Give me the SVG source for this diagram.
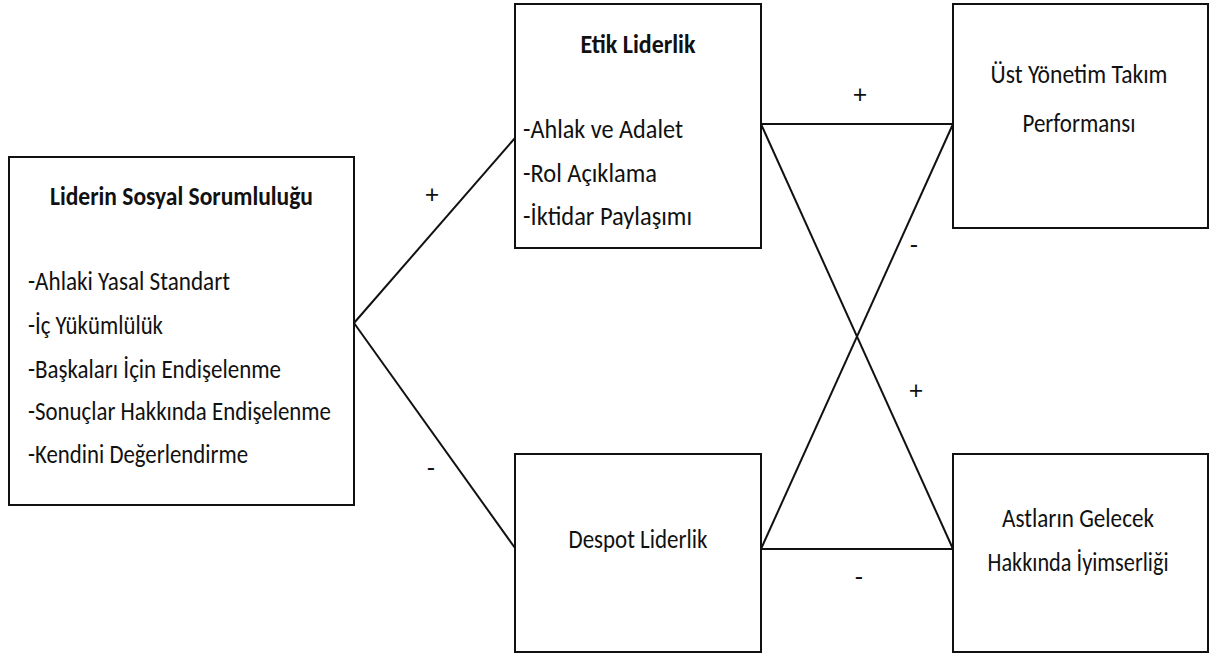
<svg xmlns="http://www.w3.org/2000/svg" width="1210" height="654" viewBox="0 0 1210 654">
  <style>
    .box { fill: #ffffff; stroke: #111111; stroke-width: 2; }
    .txt { font-family: Carlito, Calibri, Lato, "Liberation Sans", sans-serif; font-size: 27px; fill: #111111; }
    .ttl { font-weight: bold; }
    .mid { text-anchor: middle; }
    .conn line { stroke: #111111; stroke-width: 2; }
    .sign { font-family: Lato, "Liberation Sans", sans-serif; font-size: 25px; fill: #111111; text-anchor: middle; }
  </style>
  <rect width="1210" height="654" fill="#ffffff"/>

  <!-- connectors -->
  <g id="connectors" class="conn">
    <line x1="354" y1="323" x2="515" y2="138"/>
    <line x1="354" y1="323" x2="515" y2="548"/>
    <line x1="761" y1="124" x2="953" y2="124"/>
    <line x1="761" y1="549" x2="953" y2="549"/>
    <line x1="761" y1="124" x2="953" y2="549"/>
    <line x1="761" y1="549" x2="953" y2="124"/>
    <text class="sign" x="432" y="203">+</text>
    <text class="sign" x="431" y="477">-</text>
    <text class="sign" x="860" y="103">+</text>
    <text class="sign" x="914" y="254">-</text>
    <text class="sign" x="916" y="399">+</text>
    <text class="sign" x="859" y="586">-</text>
  </g>

  <!-- leader social responsibility -->
  <g id="node-sosyal-sorumluluk">
    <rect class="box" x="9" y="157" width="345" height="348"/>
    <text class="txt ttl mid" x="181.5" y="205" textLength="263" lengthAdjust="spacingAndGlyphs">Liderin Sosyal Sorumluluğu</text>
    <text class="txt" x="28" y="290" textLength="202" lengthAdjust="spacingAndGlyphs">-Ahlaki Yasal Standart</text>
    <text class="txt" x="28" y="334" textLength="135" lengthAdjust="spacingAndGlyphs">-İç Yükümlülük</text>
    <text class="txt" x="28" y="378" textLength="253" lengthAdjust="spacingAndGlyphs">-Başkaları İçin Endişelenme</text>
    <text class="txt" x="28" y="420" textLength="303" lengthAdjust="spacingAndGlyphs">-Sonuçlar Hakkında Endişelenme</text>
    <text class="txt" x="28" y="463" textLength="220" lengthAdjust="spacingAndGlyphs">-Kendini Değerlendirme</text>
  </g>

  <!-- ethical leadership -->
  <g id="node-etik-liderlik">
    <rect class="box" x="515" y="4" width="246" height="244"/>
    <text class="txt ttl mid" x="638" y="53" textLength="115" lengthAdjust="spacingAndGlyphs">Etik Liderlik</text>
    <text class="txt" x="523" y="138" textLength="160" lengthAdjust="spacingAndGlyphs">-Ahlak ve Adalet</text>
    <text class="txt" x="523" y="182" textLength="134" lengthAdjust="spacingAndGlyphs">-Rol Açıklama</text>
    <text class="txt" x="523" y="225" textLength="169" lengthAdjust="spacingAndGlyphs">-İktidar Paylaşımı</text>
  </g>

  <!-- despotic leadership -->
  <g id="node-despot-liderlik">
    <rect class="box" x="515" y="454" width="246" height="198"/>
    <text class="txt mid" x="638" y="548" textLength="139" lengthAdjust="spacingAndGlyphs">Despot Liderlik</text>
  </g>

  <!-- top management team performance -->
  <g id="node-ust-yonetim">
    <rect class="box" x="953" y="4" width="255" height="224"/>
    <text class="txt mid" x="1079" y="83" textLength="177" lengthAdjust="spacingAndGlyphs">Üst Yönetim Takım</text>
    <text class="txt mid" x="1079" y="132" textLength="113" lengthAdjust="spacingAndGlyphs">Performansı</text>
  </g>

  <!-- subordinates' optimism about the future -->
  <g id="node-astlarin-iyimserligi">
    <rect class="box" x="953" y="454" width="255" height="198"/>
    <text class="txt mid" x="1078" y="527" textLength="152" lengthAdjust="spacingAndGlyphs">Astların Gelecek</text>
    <text class="txt mid" x="1078" y="571" textLength="181" lengthAdjust="spacingAndGlyphs">Hakkında İyimserliği</text>
  </g>
</svg>
